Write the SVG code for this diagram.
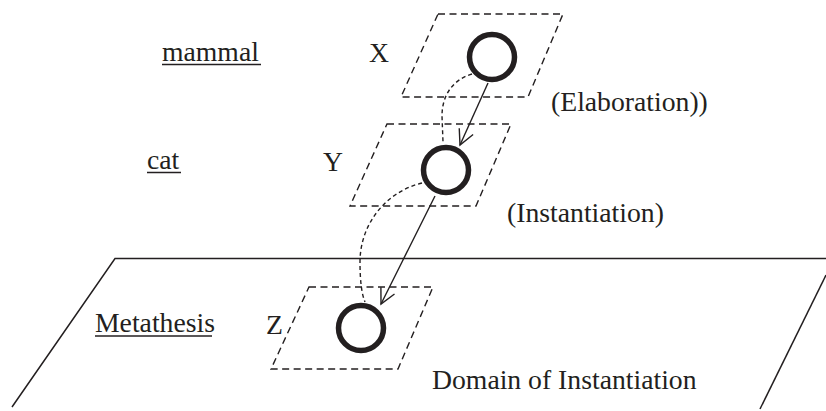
<svg xmlns="http://www.w3.org/2000/svg" width="826" height="411" viewBox="0 0 826 411">
<style>
.t{font-family:'Liberation Serif','Times New Roman','DejaVu Serif',serif;font-size:27.7px;fill:#231f20}
.plane{fill:none;stroke:#231f20;stroke-width:1.4;stroke-dasharray:7 4.5}
.node{fill:none;stroke:#231f20;stroke-width:5.5}
.arrow{fill:none;stroke:#231f20;stroke-width:1.4;marker-end:url(#open)}
.dash{fill:none;stroke:#231f20;stroke-width:1.4;stroke-dasharray:4 3}
.ul{stroke:#231f20;stroke-width:1.5}
.domain{fill:none;stroke:#231f20;stroke-width:1.5}
</style>
<defs>
<marker id="open" markerUnits="userSpaceOnUse" markerWidth="40" markerHeight="40" refX="0" refY="0" viewBox="-20 -20 40 40" orient="auto" overflow="visible">
<path d="M-15,-7.6 L0,0 L-15,7.6" fill="none" stroke="#231f20" stroke-width="1.4"/>
</marker>
</defs>
<g id="domain">
<polyline class="domain" points="12,407 115,258.5 826,258.5"/>
<line class="domain" x1="826" y1="275" x2="760" y2="409"/>
<text class="t" font-family="Liberation Serif, serif" x="432" y="389">Domain of Instantiation</text>
</g>
<g id="node-x">
<polygon class="plane" points="438,14 563,14 528,97 401,97"/>
<circle class="node" cx="492" cy="57" r="22.5"/>
<text class="t" font-family="Liberation Serif, serif" x="369" y="61.5">X</text>
<text class="t" font-family="Liberation Serif, serif" x="162" y="61">mammal</text>
<line class="ul" x1="162" y1="64.5" x2="261" y2="64.5"/>
</g>
<g id="node-y">
<polygon class="plane" points="387,124 511,124 476,206 350,206"/>
<circle class="node" cx="446" cy="170" r="22.5"/>
<text class="t" font-family="Liberation Serif, serif" x="323" y="170.5">Y</text>
<text class="t" font-family="Liberation Serif, serif" x="147" y="169">cat</text>
<line class="ul" x1="147" y1="172.5" x2="181" y2="172.5"/>
</g>
<g id="node-z">
<polygon class="plane" points="309,287 433,287 398,369 271,369"/>
<circle class="node" cx="361" cy="328" r="22.5"/>
<text class="t" font-family="Liberation Serif, serif" x="266" y="334">Z</text>
<text class="t" font-family="Liberation Serif, serif" x="95" y="332">Metathesis</text>
<line class="ul" x1="95" y1="336" x2="212" y2="336"/>
</g>
<g id="connectors">
<path class="dash" d="M472,74 C452,80 442,96 442,116 L443,142"/>
<path class="dash" d="M422,183 C385,192 360,225 360,262 Q360,290 365,302"/>
<line class="arrow" x1="488" y1="83" x2="460" y2="145"/>
<line class="arrow" x1="435" y1="196" x2="381" y2="304"/>
<text class="t" font-family="Liberation Serif, serif" x="551" y="111">(Elaboration))</text>
<text class="t" font-family="Liberation Serif, serif" x="507" y="222">(Instantiation)</text>
</g>
</svg>
